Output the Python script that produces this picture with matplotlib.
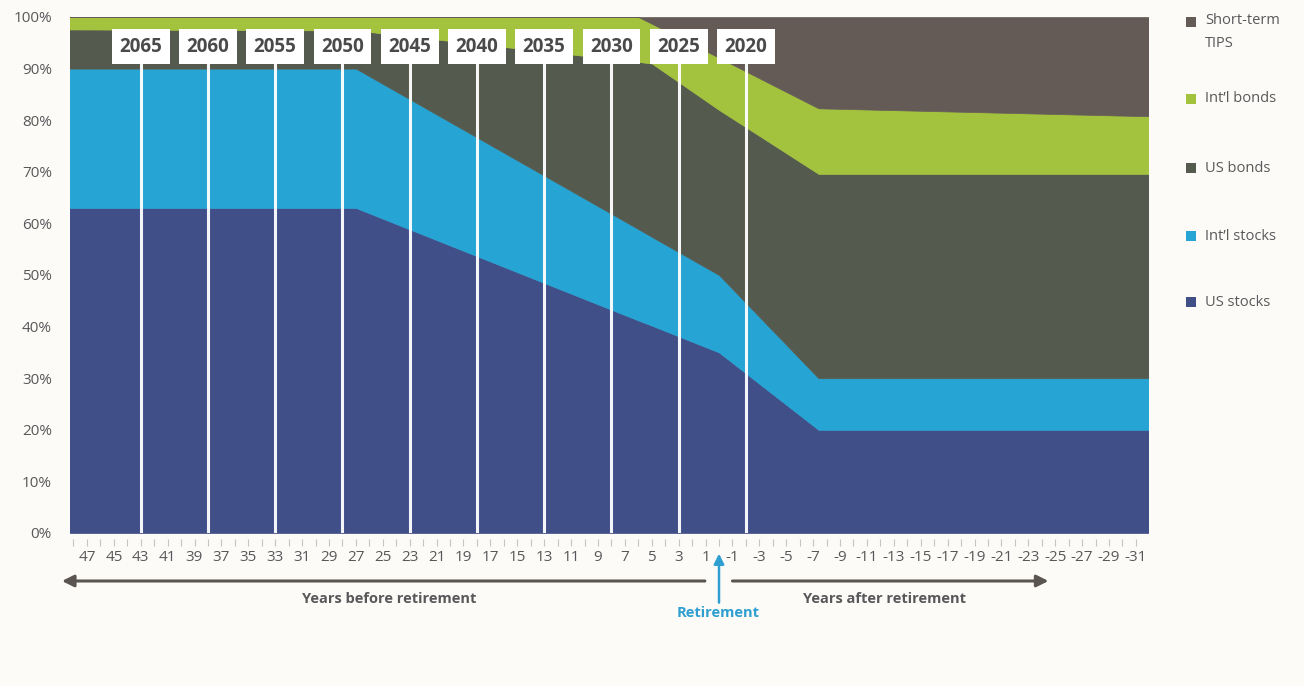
import matplotlib
matplotlib.use("Agg")
import matplotlib.pyplot as plt
import numpy as np
from matplotlib import font_manager
from matplotlib.patches import Rectangle

# ---------------- data ----------------
years       = [49, 27, 6, 5, 0, -7.4, -33]          # years before retirement
us_stocks   = [63.0, 63.0, 41.2, 40.2, 35.0, 20.0, 20.0]
intl_stocks = [27.0, 27.0, 17.7, 17.2, 15.0, 10.0, 10.0]
us_bonds    = [7.6, 7.4, 32.4, 33.6, 32.0, 39.6, 39.6]
intl_bonds  = [2.4, 2.6, 8.7, 7.7, 10.1, 12.7, 11.1]
st_tips     = [0.0, 0.0, 0.0, 1.3, 7.9, 17.7, 19.3]

series_names = ["US stocks", "Int\u2019l stocks", "US bonds", "Int\u2019l bonds", "Short-term\nTIPS"]
series_cols  = ["#414f89", "#26a4d3", "#555a4f", "#a3c33e", "#645b56"]

fund_labels = ["2065", "2060", "2055", "2050", "2045", "2040", "2035", "2030", "2025", "2020"]
fund_years  = [43, 38, 33, 28, 23, 18, 13, 8, 3, -2]

tick_years = list(range(47, -32, -2))
tick_labels = [str(y) for y in tick_years]
pct_ticks = list(range(0, 101, 10))

# ---------------- style ----------------
names = {f.name for f in font_manager.fontManager.ttflist}
font = "Open Sans" if "Open Sans" in names else "DejaVu Sans"
plt.rcParams["font.family"] = [font, "DejaVu Sans"]

BG = "#fcfbf8"
TXT = "#58585a"
W, H = 1304, 686

fig = plt.figure(figsize=(W / 100, H / 100), dpi=100, facecolor=BG)
ax = fig.add_axes([70 / W, 153 / H, 1078 / W, 516 / H])
ax.set_facecolor(BG)

# stacked areas
layers = [us_stocks, intl_stocks, us_bonds, intl_bonds, st_tips]
base = np.zeros(len(years))
for vals, col in zip(layers, series_cols):
    top = base + np.array(vals)
    ax.fill_between(years, base, top, facecolor=col, edgecolor=col, linewidth=0.5)
    base = top

ax.set_xlim(48.26, -31.9)
ax.set_ylim(0, 100)

# target-date lines and boxes
ax.vlines(fund_years, 0, 91.3, colors="white", linewidth=2.2, alpha=0.95, zorder=3)
for lab, yr in zip(fund_labels, fund_years):
    ax.text(yr, 94.2, lab, ha="center", va="center", fontsize=13.5, fontweight="bold",
            color="#4a4a4a", zorder=4,
            bbox=dict(boxstyle="square,pad=0.4", facecolor="white", edgecolor="none"))

# axes cosmetics
for s in ax.spines.values():
    s.set_visible(False)
ax.spines["bottom"].set_position(("outward", 4.5))

ax.set_yticks(pct_ticks)
ax.set_yticklabels([f"{v}%" for v in pct_ticks])
ax.tick_params(axis="y", length=0, pad=13, labelsize=11, labelcolor=TXT)

ax.set_xticks(tick_years)
ax.set_xticklabels(tick_labels)
ax.set_xticks(list(range(48, -32, -2)), minor=True)
ax.tick_params(axis="x", which="both", length=5, width=0.8, color="#c4c4c4",
               labelsize=11, labelcolor=TXT, pad=3)

# arrows and captions below the axis
arrow_col = "#5b5551"
xy_coords = ("data", "axes fraction")
ax.annotate("", xy=(48.86, -0.093), xytext=(1.05, -0.093), xycoords=xy_coords,
            textcoords=xy_coords, annotation_clip=False,
            arrowprops=dict(arrowstyle="-|>,head_length=0.7,head_width=0.35",
                            lw=2.2, color=arrow_col, shrinkA=0, shrinkB=0))
ax.annotate("", xy=(-24.5, -0.093), xytext=(-1.0, -0.093), xycoords=xy_coords,
            textcoords=xy_coords, annotation_clip=False,
            arrowprops=dict(arrowstyle="-|>,head_length=0.7,head_width=0.35",
                            lw=2.2, color=arrow_col, shrinkA=0, shrinkB=0))
ax.annotate("", xy=(0, -0.04), xytext=(0, -0.135), xycoords=xy_coords,
            textcoords=xy_coords, annotation_clip=False,
            arrowprops=dict(arrowstyle="-|>,head_length=0.6,head_width=0.3",
                            lw=1.8, color="#2e9fd0", shrinkA=0, shrinkB=0))

ax.text(24.5, -0.128, "Years before retirement", transform=ax.get_xaxis_transform(),
        ha="center", va="center", fontsize=10.5, fontweight="bold", color=TXT)
ax.text(-12.3, -0.128, "Years after retirement", transform=ax.get_xaxis_transform(),
        ha="center", va="center", fontsize=10.5, fontweight="bold", color=TXT)
ax.text(0.1, -0.155, "Retirement", transform=ax.get_xaxis_transform(),
        ha="center", va="center", fontsize=10.5, fontweight="bold", color="#2e9fd0")

# legend on the right
legend_y = [302, 236, 168, 99, 22]   # pixel row of each square centre
for name, col, py in zip(series_names, series_cols, legend_y):
    fig.add_artist(Rectangle((1186 / W, 1 - (py + 5) / H), 10 / W, 10 / H,
                             transform=fig.transFigure, facecolor=col, edgecolor="none"))
    fig.text(1205 / W, 1 - py / H, name, ha="left", va="center" if "\n" not in name else "top",
             fontsize=10.5, color=TXT, linespacing=1.75)
# two-line entry: put its top at the square's top
fig.texts[-1].set_position((1205 / W, 1 - 13 / H))

fig.savefig("out.png", dpi=100, facecolor=BG)
